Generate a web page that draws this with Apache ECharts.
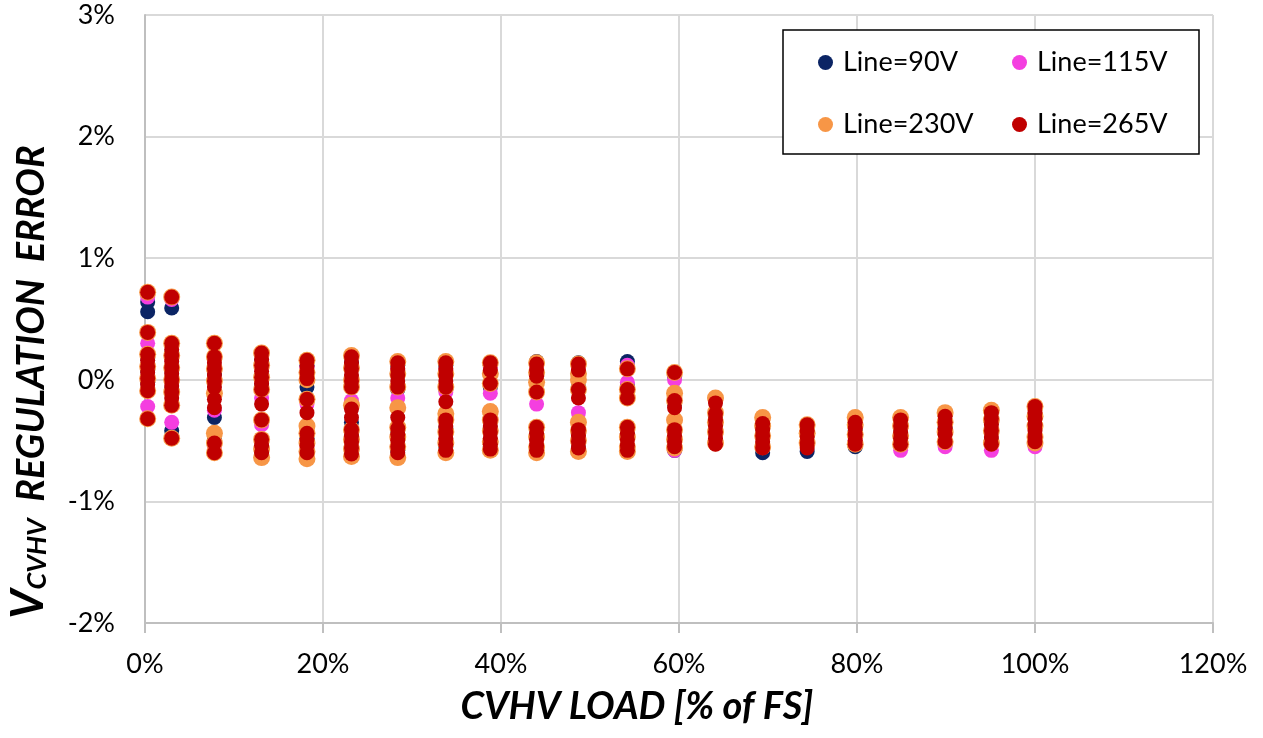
<!DOCTYPE html>
<html>
<head>
<meta charset="utf-8">
<title>CVHV Regulation Error</title>
<script src="https://cdn.jsdelivr.net/npm/echarts@6/dist/echarts.min.js"></script>
<style>
  html, body { margin: 0; padding: 0; background: #ffffff; }
  #chart { width: 1263px; height: 738px; }
</style>
</head>
<body>
<div id="chart"></div>
<script>
// Load points (% of full scale)
const loads = [0.3, 3.0, 7.8, 13.1, 18.2, 23.2, 28.4, 33.8, 38.8, 44.0, 48.7,
               54.2, 59.5, 64.1, 69.4, 74.4, 79.8, 84.9, 89.9, 95.1, 100.0];

// Regulation error readings (%) at each load, one list per load point
const line90V = [
  [0.64, 0.56, 0.18, 0.08, -0.02],
  [0.59, 0.22, 0.08, -0.08, -0.42],
  [0.18, 0.05, -0.31, -0.50],
  [0.15, -0.05, -0.50, -0.58],
  [0.12, -0.06, -0.48, -0.58],
  [0.14, -0.35, -0.45, -0.56],
  [0.12, -0.08, -0.42, -0.58],
  [0.12, -0.08, -0.40, -0.55],
  [0.12, -0.06, -0.40, -0.55],
  [0.15, 0.05, -0.42, -0.55],
  [0.14, -0.06, -0.45, -0.56],
  [0.15, 0.10, -0.05, -0.45, -0.57],
  [0.03, -0.20, -0.50, -0.58],
  [-0.30, -0.52],
  [-0.40, -0.60],
  [-0.45, -0.59],
  [-0.42, -0.55],
  [-0.40, -0.53],
  [-0.40, -0.53],
  [-0.35, -0.50],
  [-0.30, -0.48]
];

const line115V = [
  [0.68, 0.30, 0.12, -0.22],
  [0.66, 0.18, -0.35],
  [0.10, -0.25, -0.55],
  [0.10, -0.15, -0.37, -0.60],
  [0.10, -0.20, -0.55],
  [0.10, -0.17, -0.55],
  [0.08, -0.15, -0.55],
  [0.08, -0.10, -0.50],
  [0.10, -0.11, -0.50],
  [0.10, -0.20, -0.50],
  [0.10, -0.27, -0.50],
  [0.12, -0.02, -0.50],
  [0.00, -0.58],
  [-0.45],
  [-0.55],
  [-0.52],
  [-0.50],
  [-0.58],
  [-0.55],
  [-0.58],
  [-0.55]
];

const line230V = [
  [0.72, 0.39, 0.21, 0.11, 0.01, -0.09, -0.32],
  [0.68, 0.30, 0.20, 0.10, 0.00, -0.10, -0.21, -0.48],
  [0.30, 0.19, 0.09, -0.01, -0.11, -0.44, -0.52, -0.60],
  [0.22, 0.12, 0.02, -0.08, -0.33, -0.49, -0.57, -0.64],
  [0.16, 0.06, 0.00, -0.16, -0.38, -0.44, -0.52, -0.59, -0.65],
  [0.20, 0.10, 0.00, -0.06, -0.21, -0.41, -0.49, -0.57, -0.63],
  [0.15, 0.05, -0.06, -0.23, -0.39, -0.47, -0.55, -0.64],
  [0.15, 0.05, -0.06, -0.28, -0.33, -0.43, -0.52, -0.60],
  [0.14, 0.05, -0.03, -0.26, -0.33, -0.42, -0.51, -0.58],
  [0.14, 0.06, -0.02, -0.10, -0.39, -0.47, -0.55, -0.60],
  [0.13, 0.05, 0.00, -0.08, -0.35, -0.42, -0.50, -0.59],
  [0.09, -0.08, -0.15, -0.39, -0.47, -0.55, -0.59],
  [0.06, -0.11, -0.17, -0.33, -0.41, -0.49, -0.56],
  [-0.15, -0.27, -0.35, -0.43, -0.52],
  [-0.31, -0.38, -0.46, -0.55],
  [-0.37, -0.44, -0.52],
  [-0.31, -0.37, -0.45, -0.53],
  [-0.31, -0.38, -0.46, -0.53],
  [-0.27, -0.35, -0.43, -0.51],
  [-0.25, -0.33, -0.42, -0.52],
  [-0.22, -0.30, -0.38, -0.47, -0.52]
];

const line265V = [
  [0.72, 0.39, 0.21, 0.16, 0.11, 0.06, 0.01, -0.04, -0.09, -0.32],
  [0.68, 0.30, 0.25, 0.20, 0.15, 0.10, 0.05, 0.00, -0.05, -0.10, -0.15, -0.21, -0.48],
  [0.30, 0.19, 0.14, 0.09, 0.04, -0.01, -0.06, -0.16, -0.23, -0.52, -0.60],
  [0.22, 0.17, 0.12, 0.07, 0.02, -0.03, -0.08, -0.20, -0.33, -0.49, -0.54, -0.60],
  [0.16, 0.11, 0.06, 0.01, -0.16, -0.27, -0.44, -0.49, -0.54, -0.60],
  [0.19, 0.14, 0.09, 0.04, -0.01, -0.06, -0.24, -0.31, -0.41, -0.46, -0.51, -0.56, -0.61],
  [0.14, 0.09, 0.04, -0.01, -0.06, -0.31, -0.40, -0.45, -0.50, -0.55, -0.60],
  [0.14, 0.09, 0.04, -0.01, -0.06, -0.18, -0.33, -0.38, -0.43, -0.48, -0.53, -0.58],
  [0.14, 0.08, -0.03, -0.33, -0.38, -0.43, -0.48, -0.53, -0.57],
  [0.13, 0.08, 0.03, -0.10, -0.39, -0.44, -0.49, -0.54, -0.58],
  [0.13, 0.08, -0.08, -0.15, -0.41, -0.46, -0.51, -0.56],
  [0.09, -0.08, -0.15, -0.39, -0.44, -0.49, -0.54, -0.58],
  [0.06, -0.17, -0.23, -0.41, -0.46, -0.51, -0.55],
  [-0.19, -0.28, -0.33, -0.38, -0.43, -0.48, -0.53],
  [-0.36, -0.41, -0.46, -0.51, -0.56],
  [-0.37, -0.42, -0.47, -0.52, -0.56],
  [-0.35, -0.40, -0.45, -0.50, -0.53],
  [-0.33, -0.38, -0.43, -0.48, -0.53],
  [-0.30, -0.35, -0.40, -0.45, -0.51],
  [-0.27, -0.32, -0.37, -0.42, -0.47, -0.53],
  [-0.22, -0.27, -0.32, -0.37, -0.42, -0.47, -0.51]
];

const seriesNames = ['Line=90V', 'Line=115V', 'Line=230V', 'Line=265V'];
const seriesColors = ['#0b2464', '#f43fe0', '#f79646', '#c00000'];

// Flatten per-load lists into [load, error] pairs
function toPoints(perLoad) {
  const pts = [];
  perLoad.forEach((vals, i) => vals.forEach(v => pts.push([loads[i], v])));
  return pts;
}

const seriesData = [line90V, line115V, line230V, line265V].map(toPoints);
const markerSizes = [15, 15, 17, 15];

const chart = echarts.init(document.getElementById('chart'), null, { renderer: 'canvas' });

const axisFont = { fontFamily: 'Lato', fontSize: 27, color: '#000' };
const titleFont = { fontFamily: 'Lato', fontWeight: 'bold', fontStyle: 'italic' };

chart.setOption({
  backgroundColor: '#ffffff',
  animation: false,
  grid: { left: 145, right: 50, top: 15, bottom: 115, containLabel: false },
  xAxis: {
    type: 'value',
    min: 0, max: 120, interval: 20,
    axisLine: { show: true, onZero: false, lineStyle: { color: '#bfbfbf', width: 2 } },
    axisTick: { show: true, length: 10, lineStyle: { color: '#bfbfbf', width: 2 } },
    axisLabel: Object.assign({ formatter: '{value}%', margin: 28 }, axisFont),
    splitLine: { show: true, lineStyle: { color: '#d9d9d9', width: 2 } }
  },
  yAxis: {
    type: 'value',
    min: -2, max: 3, interval: 1,
    axisLine: { show: true, onZero: false, lineStyle: { color: '#bfbfbf', width: 2 } },
    axisTick: { show: false },
    axisLabel: Object.assign({ formatter: '{value}%', margin: 30, padding: [8, 0, 0, 0] }, axisFont),
    splitLine: { show: true, lineStyle: { color: '#d9d9d9', width: 2 } }
  },
  legend: {
    data: seriesNames,
    left: 783, top: 30,
    width: 372,
    orient: 'horizontal',
    padding: [19, 28, 16, 35],
    itemGap: 35,
    itemWidth: 25, itemHeight: 15,
    icon: 'circle',
    borderColor: '#000', borderWidth: 1.5,
    backgroundColor: '#ffffff',
    textStyle: { fontFamily: 'Lato', fontSize: 27, color: '#000', width: 134, lineHeight: 26 },
    selectedMode: false
  },
  series: seriesNames.map((name, i) => ({
    name: name,
    type: 'scatter',
    data: seriesData[i],
    symbol: 'circle',
    symbolSize: markerSizes[i],
    itemStyle: { color: seriesColors[i], opacity: 1 },
    z: 2 + i
  })),
  graphic: [
    {
      type: 'text',
      x: 29, y: 382,
      rotation: Math.PI / 2,
      style: {
        text: '{v|V}{s|CVHV}{t|  REGULATION  ERROR}',
        align: 'center', verticalAlign: 'middle',
        fill: '#000',
        rich: {
          v: Object.assign({ fontSize: 45, lineHeight: 44, verticalAlign: 'bottom' }, titleFont),
          s: Object.assign({ fontSize: 27, lineHeight: 28, verticalAlign: 'bottom' }, titleFont),
          t: Object.assign({ fontSize: 38, lineHeight: 38, verticalAlign: 'bottom' }, titleFont)
        }
      }
    },
    {
      type: 'text',
      x: 637, y: 707,
      style: Object.assign({
        text: 'CVHV LOAD [% of FS]',
        align: 'center', verticalAlign: 'middle',
        fill: '#000',
        fontSize: 38
      }, titleFont)
    }
  ]
});
</script>
</body>
</html>
